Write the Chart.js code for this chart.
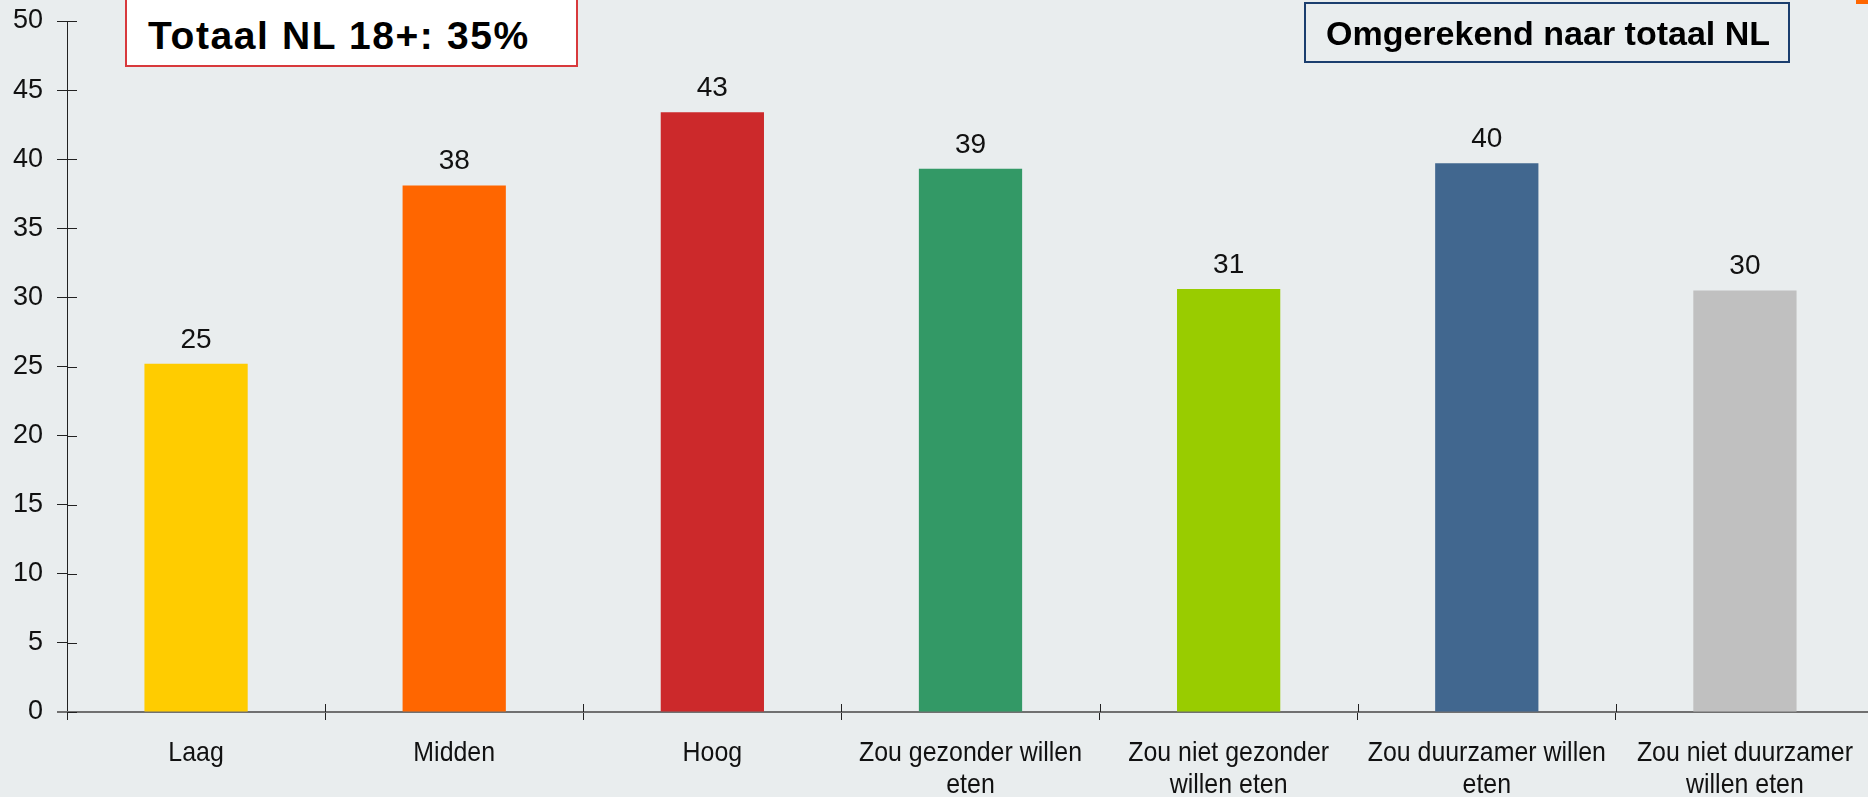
<!DOCTYPE html>
<html>
<head>
<meta charset="utf-8">
<script src="https://cdn.jsdelivr.net/npm/chart.js@4/dist/chart.umd.min.js"></script>
<style>
  html, body { margin: 0; padding: 0; background: #e9edee; overflow: hidden; }
  #wrap { position: relative; width: 1875px; height: 797px; }
  #chart { display: block; }
  .box { position: absolute; box-sizing: border-box; font-family: "Liberation Sans", Arial, sans-serif; font-weight: bold; color: #000; white-space: nowrap; }
  #totaal { left: 125px; top: -2px; width: 453px; height: 69px; background: #fff; border: 2px solid #d8393c; font-size: 39px; padding: 14px 0 0 21px; letter-spacing: 1.6px; }
  #omgerekend { left: 1304px; top: 2px; width: 486px; height: 61px; border: 2px solid #1b3e6e; font-size: 34px; padding: 10px 0 0 20px; }
  #mark { position: absolute; left: 1856px; top: 0; width: 12px; height: 4px; background: #ff6600; }
</style>
</head>
<body>
<div id="wrap">
  <canvas id="chart" width="1875" height="797"></canvas>
  <div class="box" id="totaal">Totaal NL 18+: 35%</div>
  <div class="box" id="omgerekend">Omgerekend naar totaal NL</div>
  <div id="mark"></div>
</div>
<script>
// categories and values
const categories = [
    'Laag',
    'Midden',
    'Hoog',
    ['Zou gezonder willen', 'eten'],
    ['Zou niet gezonder', 'willen eten'],
    ['Zou duurzamer willen', 'eten'],
    ['Zou niet duurzamer', 'willen eten']
];
const values = [25.2, 38.1, 43.4, 39.3, 30.6, 39.7, 30.5];
const valueLabels = ['25', '38', '43', '39', '31', '40', '30'];
const barColors = ['#ffcc00', '#ff6600', '#cc292b', '#339966', '#99cc00', '#41678f', '#c0c0c0'];
const yTicks = [0, 5, 10, 15, 20, 25, 30, 35, 40, 45, 50];

// value labels, narrow category labels, inner halves of the axis ticks
const extras = {
    id: 'extras',
    afterDatasetsDraw(chart) {
        const ctx = chart.ctx;
        const meta = chart.getDatasetMeta(0);
        const x = chart.scales.x, y = chart.scales.y;
        ctx.save();
        ctx.fillStyle = '#111';
        ctx.font = '28px "Liberation Sans", Arial, sans-serif';
        ctx.textAlign = 'center';
        ctx.textBaseline = 'alphabetic';
        meta.data.forEach((bar, i) => {
            ctx.fillText(valueLabels[i], bar.x, bar.y - 16);
        });

        // category labels are squeezed horizontally like the original
        const squeeze = 0.89;
        categories.forEach((c, i) => {
            const lines = Array.isArray(c) ? c : [c];
            const cx = x.getPixelForValue(i);
            lines.forEach((line, j) => {
                ctx.save();
                ctx.translate(cx, y.bottom + 49 + j * 31.5);
                ctx.scale(squeeze, 1);
                ctx.fillText(line, 0, 0);
                ctx.restore();
            });
        });

        ctx.strokeStyle = '#222';
        ctx.lineWidth = 1;
        yTicks.forEach(v => {
            const py = Math.round(y.getPixelForValue(v)) + 0.5;
            ctx.beginPath();
            ctx.moveTo(x.left, py);
            ctx.lineTo(x.left + 10, py);
            ctx.stroke();
        });
        for (let i = 1; i <= categories.length; i++) {
            const px = Math.round(x.getPixelForValue(i - 0.5)) + 0.5;
            ctx.beginPath();
            ctx.moveTo(px, y.bottom - 8);
            ctx.lineTo(px, y.bottom);
            ctx.stroke();
        }
        // x axis line reaches a bit left of the y axis
        ctx.strokeStyle = '#707070';
        ctx.lineWidth = 2;
        ctx.beginPath();
        ctx.moveTo(x.left - 10, y.bottom);
        ctx.lineTo(x.left, y.bottom);
        ctx.stroke();
        ctx.restore();
    }
};

new Chart(document.getElementById('chart'), {
    type: 'bar',
    data: {
        labels: categories,
        datasets: [{
            data: values,
            backgroundColor: barColors,
            borderWidth: 0,
            barPercentage: 0.4,
            categoryPercentage: 1.0
        }]
    },
    options: {
        responsive: false,
        animation: false,
        layout: { padding: { top: 21, right: 1, left: 0, bottom: 0 } },
        plugins: {
            legend: { display: false },
            tooltip: { enabled: false }
        },
        scales: {
            y: {
                min: 0,
                max: 50,
                afterFit(scale) {
                    scale.width = 67;
                    scale.paddingTop = 0;
                    scale.paddingBottom = 0;
                },
                ticks: {
                    stepSize: 5,
                    color: '#111',
                    padding: 14,
                    font: { family: '"Liberation Sans", Arial, sans-serif', size: 27 }
                },
                grid: { display: true, drawOnChartArea: false, tickLength: 10, color: '#222' },
                border: { display: true, color: '#222', width: 1 }
            },
            x: {
                afterFit(scale) {
                    scale.height = 85;
                    scale.paddingLeft = 0;
                    scale.paddingRight = 0;
                },
                ticks: { display: false },
                grid: { display: true, drawOnChartArea: false, offset: true, tickLength: 8, color: '#222' },
                border: { display: true, color: '#707070', width: 2 }
            }
        }
    },
    plugins: [extras]
});
</script>
</body>
</html>
